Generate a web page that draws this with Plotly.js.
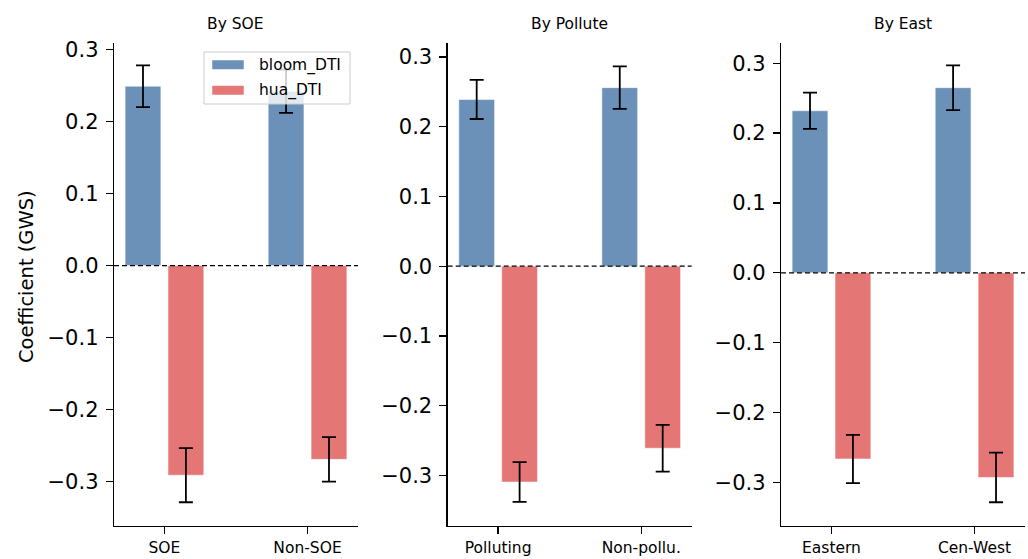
<!DOCTYPE html>
<html>
<head>
<meta charset="utf-8">
<script src="https://cdn.plot.ly/plotly-3.0.1.min.js"></script>
<style>html,body{margin:0;padding:0;background:#fff;}#chart{width:1028px;height:559px;}</style>
</head>
<body>
<div id="chart"></div>
<script>
// ---- data ----
const panelTitles = ['By SOE', 'By Pollute', 'By East'];
const catsSOE = ['SOE', 'Non-SOE'];
const catsPollute = ['Polluting', 'Non-pollu.'];
const catsEast = ['Eastern', 'Cen-West'];

const bloomSOE = [0.249, 0.242];
const bloomSOEErr = [0.029, 0.030];
const huaSOE = [-0.291, -0.269];
const huaSOEErr = [0.0375, 0.031];

const bloomPollute = [0.239, 0.256];
const bloomPolluteErr = [0.028, 0.0305];
const huaPollute = [-0.3095, -0.261];
const huaPolluteErr = [0.0285, 0.0335];

const bloomEast = [0.232, 0.265];
const bloomEastErr = [0.026, 0.032];
const huaEast = [-0.2665, -0.293];
const huaEastErr = [0.0345, 0.0355];

const seriesNames = ['bloom_DTI', 'hua_DTI'];

// ---- styling ----
const BLUE = '#6c91b8';
const RED = '#e57676';
const FONT = 'DejaVu Sans, sans-serif';
const W = 1028, H = 559, ML = 114, MR = 3, MT = 43, MB = 33;
const PW = W - ML - MR, PH = H - MT - MB;
const px = v => (v - ML) / PW;
const py = v => (H - MB - v) / PH;

const panels = [
  {cats: catsSOE, b: bloomSOE, be: bloomSOEErr, h: huaSOE, he: huaSOEErr, yr: [-0.3615, 0.309]},
  {cats: catsPollute, b: bloomPollute, be: bloomPolluteErr, h: huaPollute, he: huaPolluteErr, yr: [-0.3725, 0.32]},
  {cats: catsEast, b: bloomEast, be: bloomEastErr, h: huaEast, he: huaEastErr, yr: [-0.3625, 0.329]}
];
const domains = [[0, 0.2678], [0.3663, 0.6341], [0.7322, 1.0]];

const traces = [];
const layout = {
  width: W, height: H,
  margin: {l: ML, r: MR, t: MT, b: MB},
  paper_bgcolor: '#fff', plot_bgcolor: '#fff',
  barmode: 'overlay',
  showlegend: false,
  font: {family: FONT, color: '#000'},
  shapes: [], annotations: []
};

panels.forEach((p, i) => {
  const xa = i === 0 ? 'x' : 'x' + (i + 1);
  const ya = i === 0 ? 'y' : 'y' + (i + 1);
  const errStyle = (arr) => ({type: 'data', array: arr, visible: true, color: '#000', thickness: 1.8, width: 7});
  traces.push({
    type: 'bar', x: p.cats, y: p.b, name: seriesNames[0],
    xaxis: xa, yaxis: ya, width: 0.25, offset: -0.275,
    marker: {color: BLUE, line: {color: 'rgba(255,255,255,0.5)', width: 1}},
    error_y: errStyle(p.be), hoverinfo: 'y'
  });
  traces.push({
    type: 'bar', x: p.cats, y: p.h, name: seriesNames[1],
    xaxis: xa, yaxis: ya, width: 0.25, offset: 0.025,
    marker: {color: RED, line: {color: 'rgba(255,255,255,0.5)', width: 1}},
    error_y: errStyle(p.he), hoverinfo: 'y'
  });
  const xkey = i === 0 ? 'xaxis' : 'xaxis' + (i + 1);
  const ykey = i === 0 ? 'yaxis' : 'yaxis' + (i + 1);
  layout[xkey] = {
    domain: domains[i], anchor: ya, type: 'category',
    range: [-0.3525, 1.3525],
    showline: true, linecolor: '#000', linewidth: 1.3,
    ticks: 'outside', ticklen: 7, tickwidth: 1.3, tickcolor: '#000',
    showgrid: false, zeroline: false,
    tickfont: {family: FONT, size: 15.5, color: '#000'}
  };
  layout[ykey] = {
    domain: [0, 1], anchor: xa,
    range: p.yr, tickmode: 'array', tickvals: [-0.3, -0.2, -0.1, 0, 0.1, 0.2, 0.3],
    tickformat: '.1f',
    showline: true, linecolor: '#000', linewidth: 1.3,
    ticks: 'outside', ticklen: 7, tickwidth: 1.3, tickcolor: '#000',
    ticklabelstandoff: 3,
    showgrid: false, zeroline: false,
    tickfont: {family: FONT, size: 21, color: '#000'}
  };
  layout.shapes.push({
    type: 'line', xref: xa + ' domain', yref: ya, x0: 0, x1: 1, y0: 0, y1: 0,
    line: {color: '#000', width: 1.3, dash: '5px,3px'}
  });
  layout.annotations.push({
    text: panelTitles[i], xref: 'paper', yref: 'paper',
    x: (domains[i][0] + domains[i][1]) / 2, y: 1.039, xanchor: 'center', yanchor: 'middle',
    showarrow: false, font: {family: FONT, size: 15.5, color: '#000'}
  });
});

// custom legend (matplotlib style) in the first panel
layout.shapes.push({
  type: 'rect', xref: 'paper', yref: 'paper', layer: 'above',
  x0: px(204), x1: px(350), y0: py(104), y1: py(52),
  fillcolor: 'rgba(255,255,255,0.8)', line: {color: '#cccccc', width: 1}
});
const legendRows = [
  {name: seriesNames[0], color: BLUE, top: 60, bot: 69.5, cy: 65.5},
  {name: seriesNames[1], color: RED, top: 85.5, bot: 95, cy: 90}
];
legendRows.forEach(r => {
  layout.shapes.push({
    type: 'rect', xref: 'paper', yref: 'paper', layer: 'above',
    x0: px(212), x1: px(244), y0: py(r.bot), y1: py(r.top),
    fillcolor: r.color, line: {color: 'rgba(255,255,255,0.5)', width: 1}
  });
  layout.annotations.push({
    text: r.name, xref: 'paper', yref: 'paper', x: px(257), y: py(r.cy),
    xanchor: 'left', yanchor: 'middle', showarrow: false,
    font: {family: FONT, size: 15.5, color: '#000'}
  });
});

layout.annotations.push({
  text: 'Coefficient (GWS)', xref: 'paper', yref: 'paper', x: px(26), y: py(277),
  xanchor: 'center', yanchor: 'middle', textangle: -90, showarrow: false,
  font: {family: FONT, size: 19.5, color: '#000'}
});

Plotly.newPlot('chart', traces, layout, {displayModeBar: false, staticPlot: true});
</script>
</body>
</html>
